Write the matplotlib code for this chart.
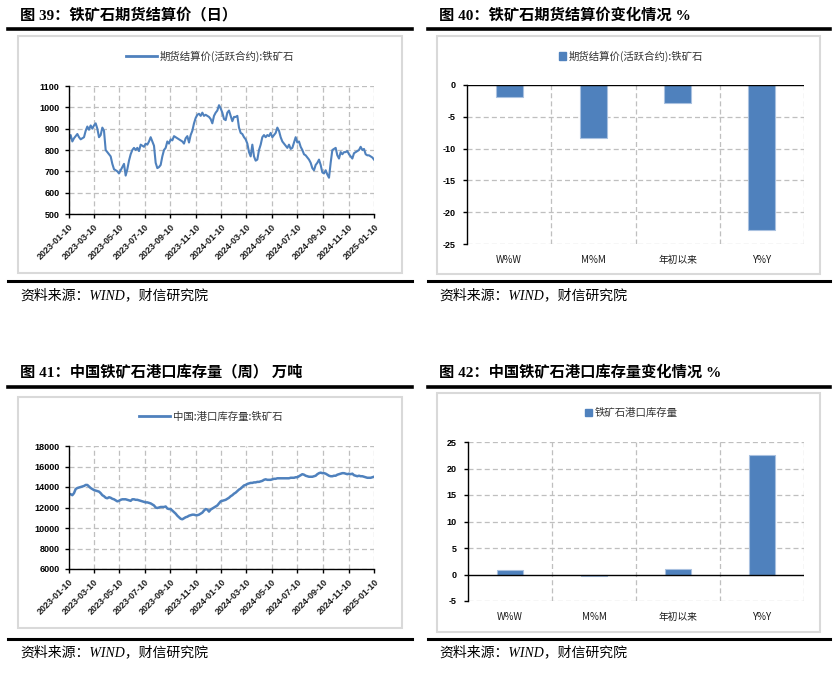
import matplotlib
matplotlib.use('Agg')
import matplotlib.pyplot as plt
from matplotlib.lines import Line2D
from matplotlib.patches import Rectangle, Patch
from matplotlib.font_manager import FontProperties
import pandas as pd

# ---------------- data ----------------
date_ticks = ['2023-01-10', '2023-03-10', '2023-05-10', '2023-07-10', '2023-09-10',
              '2023-11-10', '2024-01-10', '2024-03-10', '2024-05-10', '2024-07-10',
              '2024-09-10', '2024-11-10', '2025-01-10']
series_start = '2023-01-10'
series_end = '2025-01-10'

futures_price = [
    850, 870, 840, 855, 865, 875, 860, 850, 855, 860,
    890, 910, 895, 915, 900, 915, 925, 900, 860, 870,
    905, 890, 800, 790, 780, 770, 735, 710, 705, 700,
    690, 705, 720, 735, 680, 710, 750, 780, 800, 810,
    800, 810, 795, 825, 820, 815, 830, 825, 840, 860,
    840, 820, 740, 715, 720, 730, 770, 800, 810, 840,
    830, 850, 845, 865, 860, 855, 850, 845, 840, 830,
    855, 865, 835, 870, 890, 925, 950, 965, 970, 960,
    975, 960, 965, 960, 955, 945, 925, 960, 975, 985,
    1010, 995, 975, 945,
    940, 975, 985, 960, 935, 955, 955, 960, 905, 880,
    875, 860, 850, 830, 790, 770, 825, 770, 750, 755,
    800, 825, 860, 870, 860, 870, 865, 880, 860, 870,
    880, 905, 890, 860, 840, 830, 820, 810, 825, 805,
    810, 835, 860, 835, 840, 815, 800, 780, 775, 765,
    755, 740, 715, 705, 730, 740, 755, 730, 695, 690,
    705, 685, 670, 740, 800, 805, 810, 775, 760, 790,
    780, 790, 790, 795, 780, 770, 760, 785, 790, 795,
    800, 815, 800, 805, 780, 775, 775, 770, 765, 755]

port_stock = [
    13300, 13300, 13200, 13400, 13800, 13900, 13950, 14000, 14050, 14100,
    14200, 14200, 14050, 13900, 13800, 13700, 13650, 13600, 13550, 13400,
    13200, 13100, 12950, 12900, 13000, 12950, 12850, 12800, 12700, 12600,
    12650, 12750, 12800, 12800, 12800, 12750, 12700, 12650, 12800, 12800,
    12750, 12750, 12700, 12650, 12600, 12550, 12500, 12500, 12450, 12400,
    12300, 12200, 12000, 11950, 12000, 12050, 12050, 12050, 12100, 11900,
    11850, 11850, 11700, 11550, 11400, 11200, 11050, 10900, 10850, 10950,
    11050, 11100, 11200, 11250, 11300, 11300, 11250, 11250, 11300, 11400,
    11500, 11700, 11850, 11800, 11600, 11800, 11900, 12000, 12100, 12200,
    12400, 12600, 12650,
    12700, 12750, 12850, 12950, 13100, 13200, 13350, 13450, 13600, 13750,
    13850, 14000, 14150, 14200, 14300, 14350, 14400, 14400, 14450, 14450,
    14500, 14500, 14550, 14600, 14700, 14750, 14700, 14700, 14700, 14750,
    14800, 14800, 14850, 14850, 14850, 14850, 14850, 14850, 14850, 14850,
    14900, 14900, 14900, 14950, 14950, 15050, 15150, 15250, 15200, 15100,
    15050, 15000, 15000, 15000, 15050, 15100, 15250, 15350, 15400, 15350,
    15350, 15300, 15200, 15100, 15050, 15050, 15100, 15100, 15200, 15250,
    15300, 15350, 15350, 15300, 15250, 15300, 15250, 15300, 15150, 15100,
    15050, 15100, 15050, 15050, 15000, 14950, 14900, 14900, 14900, 14950,
    15000]

change_cats = ['W%W', 'M%M', '年初以来', 'Y%Y']
futures_change = [-1.9, -8.4, -2.9, -22.8]
stock_change = [0.8, -0.2, 0.95, 22.5]

# ---------------- style ----------------
W, H = 840, 673
BLUE = '#4F81BD'
GRID = '#BFBFBF'
CJK = 'Noto Sans CJK SC'
TITLE_FAM = ['Liberation Serif', CJK]
NUM_FAM = ['Liberation Sans', CJK]

fig = plt.figure(figsize=(W / 100, H / 100), dpi=100)
fig.patch.set_facecolor('white')


def ax_px(x0, y0, x1, y1):
    return fig.add_axes([x0 / W, 1 - y1 / H, (x1 - x0) / W, (y1 - y0) / H])


def hline(x0, x1, y, lw):
    fig.add_artist(Line2D([x0 / W, x1 / W], [1 - y / H, 1 - y / H],
                          transform=fig.transFigure, color='black', lw=lw))


def box(x0, y0, x1, y1):
    fig.add_artist(Rectangle((x0 / W, 1 - y1 / H), (x1 - x0) / W, (y1 - y0) / H,
                             transform=fig.transFigure, fill=False,
                             edgecolor='#D9D9D9', lw=1.5))


def title(x, y, s):
    fig.text(x / W, 1 - y / H, s, fontsize=11, fontweight='bold',
             family=TITLE_FAM, ha='left', va='center')


def source(x, y):
    fig.text(x / W, 1 - y / H, '资料来源：WIND，财信研究院', fontsize=10,
             style='italic', family=TITLE_FAM, ha='left', va='center')


def style_axes(ax):
    for sp in ['top', 'right']:
        ax.spines[sp].set_visible(False)
    for sp in ['left', 'bottom']:
        ax.spines[sp].set_color('black')
        ax.spines[sp].set_linewidth(1)
    ax.grid(True, color=GRID, lw=0.9, linestyle=(0, (4, 2.5)))
    ax.set_axisbelow(True)
    ax.tick_params(axis='both', direction='out', length=3, width=1, color='black')
    for lab in ax.get_yticklabels():
        lab.set_fontproperties(FontProperties(family=NUM_FAM, size=6.5, weight='bold'))


def line_panel(ax, values, yticks, ylabels, lw):
    dates = pd.date_range(series_start, series_end, periods=len(values))
    ax.plot(dates, values, color=BLUE, lw=lw)
    ax.set_xlim(pd.Timestamp(series_start), pd.Timestamp(series_end))
    ax.set_ylim(yticks[0], yticks[-1])
    ax.set_yticks(yticks)
    ax.set_yticklabels(ylabels)
    ax.set_xticks(pd.to_datetime(date_ticks))
    ax.set_xticklabels(date_ticks, rotation=45, ha='right', va='top',
                       rotation_mode='anchor')
    style_axes(ax)
    for lab in ax.get_xticklabels():
        lab.set_fontproperties(FontProperties(family=NUM_FAM, size=6.5, weight='bold'))
        lab.set_color('#1a1a1a')
    ax.tick_params(axis='y', pad=4)
    ax.tick_params(axis='x', pad=3)


def bar_panel(ax, values, yticks):
    xs = list(range(len(change_cats)))
    ax.bar(xs, values, width=0.32, color=BLUE, edgecolor='#A9C1E0', lw=0.8, zorder=3)
    ax.set_xlim(-0.5, len(change_cats) - 0.5)
    ax.set_ylim(yticks[0], yticks[-1])
    ax.set_yticks(yticks)
    ax.set_yticklabels([str(v) for v in yticks])
    style_axes(ax)
    ax.spines['bottom'].set_visible(False)
    ax.grid(False)
    for v in yticks:
        if v != 0:
            ax.axhline(v, color=GRID, lw=0.9, linestyle=(0, (4, 2.5)), zorder=1)
    for b in [0.5, 1.5, 2.5, 3.5]:
        ax.axvline(b, color=GRID, lw=0.9, linestyle=(0, (4, 2.5)), zorder=1)
    ax.axhline(0, color='black', lw=1, zorder=4)
    ax.set_xticks(xs)
    ax.set_xticklabels(change_cats)
    ax.tick_params(axis='x', length=0, pad=8)
    for lab in ax.get_xticklabels():
        lab.set_fontproperties(FontProperties(family=[CJK], size=7, weight='medium'))
        lab.set_color('#1a1a1a')
    ax.tick_params(axis='y', pad=5)


def legend(ax, handle, text, cx, cy, line=True):
    kw = dict(handlelength=3.0, handletextpad=0.3) if line else \
        dict(handlelength=0.7, handleheight=0.7, handletextpad=0.2)
    ax.legend([handle], [text], loc='center', bbox_to_anchor=(cx / W, 1 - cy / H),
              bbox_transform=fig.transFigure, frameon=False,
              prop=FontProperties(family=[CJK], size=7.5), labelcolor='#333333',
              borderpad=0, **kw)


# ---------------- decorations ----------------
title(20, 16, '图 39：铁矿石期货结算价（日）')
title(439, 16, '图 40：铁矿石期货结算价变化情况 %')
title(20, 373, '图 41：中国铁矿石港口库存量（周） 万吨')
title(439, 373, '图 42：中国铁矿石港口库存量变化情况 %')

hline(8, 412, 29, 2.6)
hline(428, 830, 29, 2.6)
hline(8, 412, 281, 2.2)
hline(428, 830, 281, 2.2)
hline(8, 412, 387, 2.6)
hline(428, 830, 387, 2.6)
hline(8, 412, 639, 2.2)
hline(428, 830, 639, 2.2)

box(18, 36, 402, 273)
box(437, 36, 820, 274)
box(18, 397, 402, 628)
box(437, 393, 820, 632)

source(20, 295)
source(439, 295)
source(20, 652)
source(439, 652)

# ---------------- panels ----------------
ax1 = ax_px(69, 86, 374, 214)
line_panel(ax1, futures_price, [500, 600, 700, 800, 900, 1000, 1100],
           ['500', '600', '700', '800', '900', '1000', '1100'], 1.5)
legend(ax1, Line2D([], [], color=BLUE, lw=2), '期货结算价(活跃合约):铁矿石', 210, 56)

ax2 = ax_px(467, 85, 804, 244)
bar_panel(ax2, futures_change, [-25, -20, -15, -10, -5, 0])
legend(ax2, Patch(color=BLUE), '期货结算价(活跃合约):铁矿石', 631, 56, line=False)

ax3 = ax_px(69, 446, 374, 569)
line_panel(ax3, port_stock, [6000, 8000, 10000, 12000, 14000, 16000, 18000],
           ['6000', '8000', '10000', '12000', '14000', '16000', '18000'], 1.8)
legend(ax3, Line2D([], [], color=BLUE, lw=2), '中国:港口库存量:铁矿石', 211, 417)

ax4 = ax_px(468, 442, 804, 601)
bar_panel(ax4, stock_change, [-5, 0, 5, 10, 15, 20, 25])
legend(ax4, Patch(color=BLUE), '铁矿石港口库存量', 631, 413, line=False)

fig.savefig('out.png', dpi=100, facecolor='white')
